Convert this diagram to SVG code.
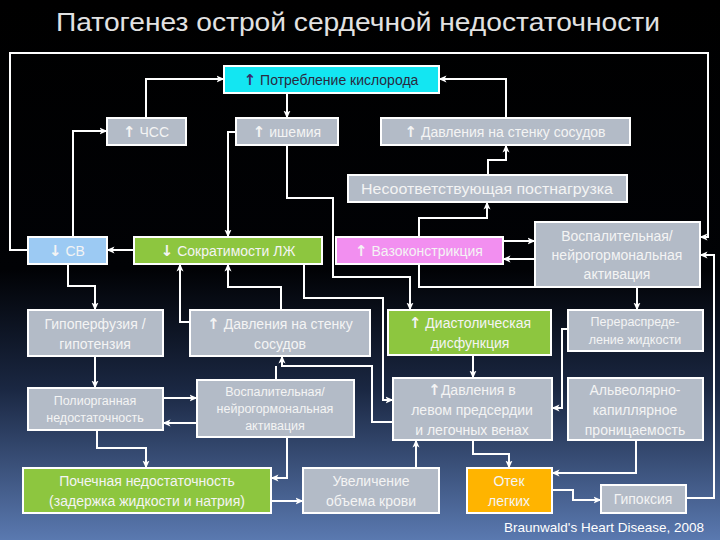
<svg xmlns="http://www.w3.org/2000/svg" width="720" height="540" viewBox="0 0 720 540">
<defs>
<linearGradient id="bg" x1="0" y1="0" x2="0" y2="1">
<stop offset="0" stop-color="#000000"/>
<stop offset="0.5" stop-color="#010205"/>
<stop offset="0.72" stop-color="#1a2742"/>
<stop offset="1" stop-color="#5a79b0"/>
</linearGradient>
<marker id="ah" markerUnits="userSpaceOnUse" markerWidth="8" markerHeight="8" viewBox="0 0 8 8" refX="7.5" refY="4" orient="auto">
<path d="M0,0.5 L8,4 L0,7.5 L2,4 Z" fill="#ffffff"/>
</marker>
<style>
.box{stroke:#ffffff;stroke-width:2}
.g{fill:#b3bbc7}
.gr{fill:#8dc63f}
.bl{fill:#9ccaf3}
.pk{fill:#f28ff0}
.cy{fill:#13e6f2}
.or{fill:#ffb400}
text{font-family:"Liberation Sans",Arial,sans-serif;font-size:14px;fill:#f4f4f4;text-anchor:middle}
.ar{font-family:"DejaVu Sans",sans-serif;font-weight:bold;font-size:15px}
.sm{font-size:12.5px}
.dk{fill:#2a2a40}
.c{fill:none;stroke:#ffffff;stroke-width:2}
.a{marker-end:url(#ah)}
</style>
</defs>
<rect x="0" y="0" width="720" height="540" fill="url(#bg)"/>
<text x="358" y="31" style="font-size:25px;fill:#e2e2e2" textLength="604" lengthAdjust="spacingAndGlyphs">Патогенез острой сердечной недостаточности</text>

<g id="connectors">
<path class="c a" d="M28,250 H10 V53 H708 V237 H700"/>
<path class="c a" d="M146,118 V79 H224"/>
<path class="c a" d="M506,118 V79 H439"/>
<path class="c a" d="M287,93 V118"/>
<path class="c a" d="M73,237 V131 H107"/>
<path class="c a" d="M236,132 H228 V237"/>
<path class="c a" d="M287,145 V198 H333 V277 H410 V310"/>
<path class="c a" d="M488,175 V160 H506 V145"/>
<path class="c a" d="M419,237 V218 H487 V202"/>
<path class="c a" d="M503,241 H535"/>
<path class="c a" d="M535,259 H503"/>
<path class="c a" d="M419,264 V287 H637 V310"/>
<path class="c a" d="M134,250 H107"/>
<path class="c a" d="M68,264 V286 H95 V310"/>
<path class="c a" d="M190,322 H180 V264"/>
<path class="c a" d="M281,310 V287 H228 V264"/>
<path class="c a" d="M304,264 V298 H383 V400 H393"/>
<path class="c a" d="M393,422 H372 V366 H282 V356"/>
<path class="c" d="M276,380 V366"/>
<path class="c a" d="M95,356 V388"/>
<path class="c a" d="M163,398 H197"/>
<path class="c a" d="M197,423 H163"/>
<path class="c a" d="M97,430 V448 H146 V468"/>
<path class="c a" d="M287,437 V478 H271"/>
<path class="c a" d="M271,501 H303"/>
<path class="c a" d="M416,468 V440"/>
<path class="c a" d="M473,355 V378"/>
<path class="c a" d="M568,329 H562 V408 H552"/>
<path class="c a" d="M473,440 V454 H509 V468"/>
<path class="c a" d="M636,440 V473 H552"/>
<path class="c a" d="M552,490 H573 V500 H601"/>
<path class="c a" d="M686,498 H714 V255 H700"/>
</g>

<g id="n-o2"><rect class="box cy" x="224" y="66" width="215" height="27"/><text class="dk" x="331" y="84.5"><tspan class="ar" style="fill:#3a2a6a">↑</tspan> Потребление кислорода</text></g>
<g id="n-hr"><rect class="box g" x="107" y="118" width="79" height="27"/><text x="146" y="136.5"><tspan class="ar">↑</tspan> ЧСС</text></g>
<g id="n-isch"><rect class="box g" x="236" y="118" width="102" height="27"/><text x="287" y="136.5"><tspan class="ar">↑</tspan> ишемия</text></g>
<g id="n-wall1"><rect class="box g" x="381" y="118" width="249" height="27"/><text x="505" y="136.5"><tspan class="ar">↑</tspan> Давления на стенку сосудов</text></g>
<g id="n-afterload"><rect class="box g" x="348" y="175" width="279" height="27"/><text x="487" y="193.5" textLength="252" lengthAdjust="spacingAndGlyphs">Несоответствующая постнагрузка</text></g>
<g id="n-co"><rect class="box bl" x="28" y="237" width="79" height="27"/><text x="67" y="255.5"><tspan class="ar">↓</tspan> СВ</text></g>
<g id="n-contr"><rect class="box gr" x="134" y="237" width="188" height="27"/><text x="228" y="255.5"><tspan class="ar">↓</tspan> Сократимости ЛЖ</text></g>
<g id="n-vaso"><rect class="box pk" x="336" y="237" width="167" height="27"/><text x="419" y="255.5"><tspan class="ar">↑</tspan> Вазоконстрикция</text></g>
<g id="n-infl1"><rect class="box g" x="535" y="222" width="165" height="65"/><text x="617" y="241">Воспалительная/</text><text x="617" y="260">нейрогормональная</text><text x="617" y="279">активация</text></g>
<g id="n-hypo"><rect class="box g" x="28" y="310" width="135" height="46"/><text x="95" y="329">Гипоперфузия /</text><text x="95" y="349">гипотензия</text></g>
<g id="n-wall2"><rect class="box g" x="190" y="310" width="180" height="46"/><text x="280" y="329"><tspan class="ar">↑</tspan> Давления на стенку</text><text x="280" y="349">сосудов</text></g>
<g id="n-diast"><rect class="box gr" x="388" y="310" width="163" height="45"/><text x="470" y="328"><tspan class="ar">↑</tspan> Диастолическая</text><text x="470" y="348">дисфункция</text></g>
<g id="n-redis"><rect class="box g" x="568" y="310" width="135" height="41"/><text class="sm" x="635" y="326">Перераспреде-</text><text class="sm" x="635" y="344">ление жидкости</text></g>
<g id="n-mof"><rect class="box g" x="28" y="388" width="135" height="42"/><text class="sm" x="95" y="405">Полиорганная</text><text class="sm" x="95" y="422">недостаточность</text></g>
<g id="n-infl2"><rect class="box g" x="197" y="380" width="157" height="57"/><text class="sm" x="275" y="396">Воспалительная/</text><text class="sm" x="275" y="413">нейрогормональная</text><text class="sm" x="275" y="430">активация</text></g>
<g id="n-lap"><rect class="box g" x="393" y="378" width="159" height="62"/><text x="472" y="395"><tspan class="ar">↑</tspan>Давления в</text><text x="472" y="415">левом предсердии</text><text x="472" y="435">и легочных венах</text></g>
<g id="n-alv"><rect class="box g" x="568" y="378" width="135" height="62"/><text x="635" y="395">Альвеолярно-</text><text x="635" y="415">капиллярное</text><text x="635" y="435">проницаемость</text></g>
<g id="n-renal"><rect class="box gr" x="23" y="468" width="248" height="45"/><text x="147" y="486">Почечная недостаточность</text><text x="147" y="506">(задержка жидкости и натрия)</text></g>
<g id="n-vol"><rect class="box g" x="303" y="468" width="136" height="45"/><text x="371" y="486">Увеличение</text><text x="371" y="506">объема крови</text></g>
<g id="n-edema"><rect class="box or" x="467" y="468" width="85" height="45"/><text x="509" y="486">Отек</text><text x="509" y="506">легких</text></g>
<g id="n-hypox"><rect class="box g" x="601" y="485" width="85" height="28"/><text x="643" y="504">Гипоксия</text></g>
<text x="604" y="532" style="font-size:13.5px;fill:#ffffff">Braunwald's Heart Disease, 2008</text>
</svg>
